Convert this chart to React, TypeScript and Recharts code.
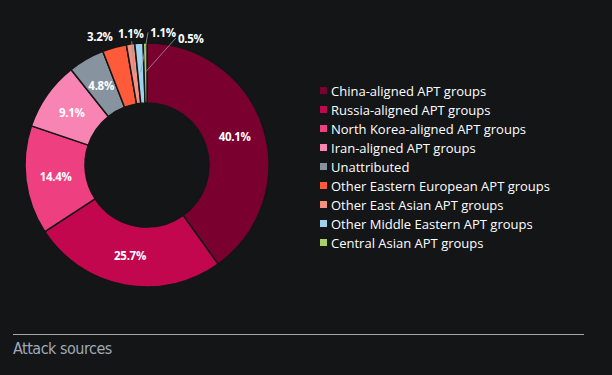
import { PieChart, Pie, Cell } from "recharts";

const groups = [
  "China-aligned APT groups",
  "Russia-aligned APT groups",
  "North Korea-aligned APT groups",
  "Iran-aligned APT groups",
  "Unattributed",
  "Other Eastern European APT groups",
  "Other East Asian APT groups",
  "Other Middle Eastern APT groups",
  "Central Asian APT groups",
];
const shares = [40.1, 25.7, 14.4, 9.1, 4.8, 3.2, 1.1, 1.1, 0.5];
const colors = [
  "#7a0030",
  "#c3074f",
  "#ee3f80",
  "#f884b4",
  "#87939e",
  "#ff5a3a",
  "#f6907f",
  "#9fd2ee",
  "#a9cf6a",
];

const BG = "#141517";
const RAD = Math.PI / 180;
// label nudges for the thin slices (dx, dy, leader line?)
const smallNudge: Record<number, [number, number, boolean]> = {
  5: [-11, 3, false],
  6: [2, 3, true],
  7: [25, 3, true],
  8: [46, 9, true],
};

const data = groups.map((name, i) => ({ name, value: shares[i] }));

function renderLabel(props: any) {
  const { cx, cy, midAngle, innerRadius, outerRadius, index, value } = props;
  const cos = Math.cos(-midAngle * RAD);
  const sin = Math.sin(-midAngle * RAD);
  const mid = (innerRadius + outerRadius) / 2;
  const txt = `${value}%`;
  const style = { fontFamily: "'Open Sans', sans-serif", fontWeight: 700, fontSize: 11.5, letterSpacing: -0.3 };
  if (!(index in smallNudge)) {
    return (
      <text x={cx + mid * cos} y={cy + mid * sin} fill="#fff" textAnchor="middle" dominantBaseline="central" style={style}>
        {txt}
      </text>
    );
  }
  const [dx, dy, line] = smallNudge[index];
  const lx = cx + (outerRadius + 14) * cos + dx;
  const ly = cy + (outerRadius + 14) * sin + dy;
  const sx = cx + (mid + 1) * cos;
  const sy = cy + (mid + 1) * sin;
  const ex = dx > 10 ? lx - 15 : lx + 1;
  const ey = dx > 10 ? ly : ly + 8;
  return (
    <g>
      {line && <line x1={sx} y1={sy} x2={ex} y2={ey} stroke="#9a9a9a" strokeWidth={0.8} />}
      <text x={lx} y={ly} fill="#fff" textAnchor="middle" dominantBaseline="central" style={style}>
        {txt}
      </text>
    </g>
  );
}

export default function App() {
  return (
    <div style={{ position: "absolute", left: 0, top: 0, width: 612, height: 375, background: BG, overflow: "hidden" }}>
      <PieChart width={612} height={320} margin={{ top: 0, right: 0, bottom: 0, left: 0 }}>
        <Pie
          data={data}
          dataKey="value"
          nameKey="name"
          cx={147}
          cy={165}
          innerRadius={62}
          outerRadius={122}
          startAngle={90}
          endAngle={-270}
          stroke={BG}
          strokeWidth={1.5}
          label={renderLabel}
          labelLine={false}
          isAnimationActive={false}
        >
          {data.map((d, i) => (
            <Cell key={d.name} fill={colors[i]} />
          ))}
        </Pie>
      </PieChart>
      <div
        style={{
          position: "absolute",
          left: 320,
          top: 81,
          fontFamily: "'Open Sans', sans-serif",
          fontSize: 13,
          color: "#fff",
        }}
      >
        {groups.map((g, i) => (
          <div key={g} style={{ display: "flex", alignItems: "center", height: 19 }}>
            <span style={{ width: 7, height: 7, background: colors[i], marginRight: 4, display: "inline-block" }} />
            <span>{g}</span>
          </div>
        ))}
      </div>
      <div style={{ position: "absolute", left: 13, top: 334, width: 571, height: 1, background: "#a8a8a8" }} />
      <div
        style={{
          position: "absolute",
          left: 13,
          top: 339,
          fontFamily: "'DejaVu Sans', sans-serif",
          fontStretch: "condensed",
          fontSize: 16,
          letterSpacing: -0.5,
          color: "#9eaab7",
        }}
      >
        Attack sources
      </div>
    </div>
  );
}
